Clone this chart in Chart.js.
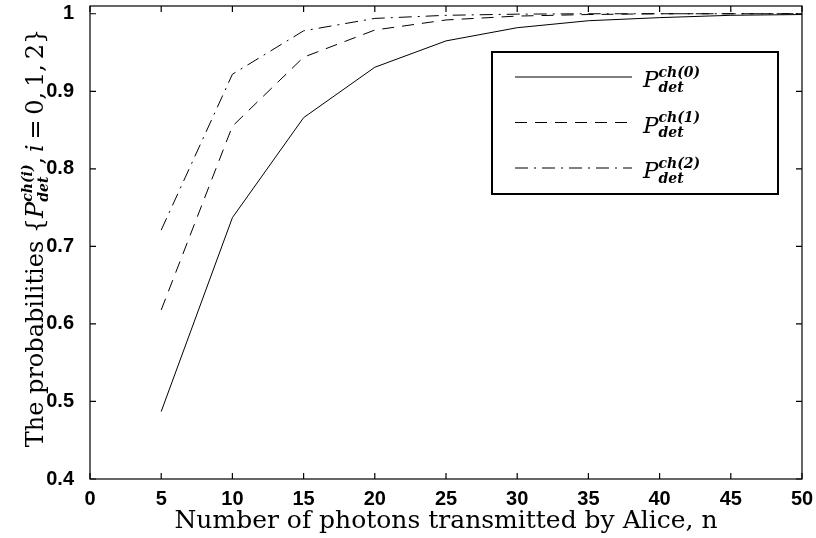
<!DOCTYPE html>
<html>
<head>
<meta charset="utf-8">
<script src="https://cdn.jsdelivr.net/npm/chart.js@4.4.1/dist/chart.umd.min.js"></script>
<style>
  html, body { margin:0; padding:0; background:#fff; }
  #wrap { width:816px; height:538px; position:relative; }
</style>
</head>
<body>
<div id="wrap"><canvas id="pdet"></canvas></div>
<script>
// ─── Data ────────────────────────────────────────────────────────────────────
const photons = [5, 10, 15, 20, 25, 30, 35, 40, 45, 50];
const pdet0   = [0.487, 0.737, 0.866, 0.931, 0.965, 0.982, 0.991, 0.995, 0.998, 0.999];
const pdet1   = [0.618, 0.855, 0.944, 0.979, 0.992, 0.997, 0.999, 1.000, 1.000, 1.000];
const pdet2   = [0.721, 0.922, 0.978, 0.994, 0.998, 0.9995, 1.000, 1.000, 1.000, 1.000];
const xTicks  = [0, 5, 10, 15, 20, 25, 30, 35, 40, 45, 50];
const yTicks  = [0.4, 0.5, 0.6, 0.7, 0.8, 0.9, 1.0];
const supLbl  = ['ch(0)', 'ch(1)', 'ch(2)'];

// ─── Styles ──────────────────────────────────────────────────────────────────
const DASH   = { solid:[], dashed:[12, 8], dashdot:[13, 6, 2, 6] };
const SERIF  = '"DejaVu Serif", serif';
const TICKF  = { family:'"Liberation Sans", Arial, sans-serif', size:20, weight:'bold' };
const THIN   = '\u2009';
const YT     = 24;   // y title font size

function pts(ys) { return photons.map((x, i) => ({ x, y: ys[i] })); }

// draws P with stacked sup/sub, returns advance width
function drawP(ctx, x, y, sup, sub, big, small) {
  ctx.font = 'italic ' + big + 'px ' + SERIF;
  ctx.fillText('P', x, y);
  const wp = ctx.measureText('P').width;
  ctx.font = 'italic bold ' + small + 'px ' + SERIF;
  ctx.fillText(sup, x + wp, y - big * 0.45);
  ctx.fillText(sub, x + wp, y + big * 0.2);
  return wp + Math.max(ctx.measureText(sup).width, ctx.measureText(sub).width);
}

// ─── Frame, inward ticks, titles, legend ─────────────────────────────────────
const framePlugin = {
  id: 'frame',
  afterDraw(chart) {
    const { ctx, chartArea: a, scales: { x, y } } = chart;
    ctx.save();
    ctx.strokeStyle = '#000';
    ctx.lineWidth = 1.2;
    ctx.setLineDash([]);
    ctx.strokeRect(a.left, a.top, a.right - a.left, a.bottom - a.top);
    const tl = 6;
    ctx.beginPath();
    xTicks.forEach(v => {
      const px = x.getPixelForValue(v);
      ctx.moveTo(px, a.bottom); ctx.lineTo(px, a.bottom - tl);
      ctx.moveTo(px, a.top);    ctx.lineTo(px, a.top + tl);
    });
    yTicks.forEach(v => {
      const py = y.getPixelForValue(v);
      ctx.moveTo(a.left, py);  ctx.lineTo(a.left + tl, py);
      ctx.moveTo(a.right, py); ctx.lineTo(a.right - tl, py);
    });
    ctx.stroke();

    // x title
    ctx.fillStyle = '#000';
    ctx.textBaseline = 'alphabetic';
    ctx.textAlign = 'center';
    ctx.font = '25px ' + SERIF;
    ctx.fillText('Number of photons transmitted by Alice, n', (a.left + a.right) / 2, 528);

    // y title (rotated, with math)
    ctx.textAlign = 'left';
    ctx.save();
    ctx.translate(43, 238);
    ctx.rotate(-Math.PI / 2);
    const head = 'The probabilities {', tail1 = ',' + THIN, ital = 'i';
    const tail2 = THIN + '=' + THIN + '0,' + THIN + '1,' + THIN + '2}';
    ctx.font = YT + 'px ' + SERIF;
    const wHead = ctx.measureText(head).width;
    const wT1 = ctx.measureText(tail1).width, wT2 = ctx.measureText(tail2).width;
    ctx.font = 'italic ' + YT + 'px ' + SERIF;
    const wI = ctx.measureText(ital).width;
    // measure P block first
    ctx.globalAlpha = 0;
    const wP = drawP(ctx, 0, 0, 'ch(i)', 'det', YT, 14);
    ctx.globalAlpha = 1;
    let u = -(wHead + wP + wT1 + wI + wT2) / 2;
    ctx.font = YT + 'px ' + SERIF;
    ctx.fillText(head, u, 0); u += wHead;
    u += drawP(ctx, u, 0, 'ch(i)', 'det', YT, 14);
    ctx.font = YT + 'px ' + SERIF;
    ctx.fillText(tail1, u, 0); u += wT1;
    ctx.font = 'italic ' + YT + 'px ' + SERIF;
    ctx.fillText(ital, u, 0); u += wI;
    ctx.font = YT + 'px ' + SERIF;
    ctx.fillText(tail2, u, 0);
    ctx.restore();

    // legend box
    const lx = 492, ly = 52, lw = 286, lh = 142;
    ctx.fillStyle = '#fff';
    ctx.fillRect(lx, ly, lw, lh);
    ctx.lineWidth = 2;
    ctx.strokeStyle = '#000';
    ctx.strokeRect(lx, ly, lw, lh);
    ctx.fillStyle = '#000';
    chart.data.datasets.forEach((ds, i) => {
      const ry = 77 + i * 45.5;
      ctx.lineWidth = 1.2;
      ctx.setLineDash(ds.borderDash);
      ctx.beginPath();
      ctx.moveTo(515, ry); ctx.lineTo(632, ry);
      ctx.stroke();
      ctx.setLineDash([]);
      drawP(ctx, 643, ry + 10, supLbl[i], 'det', 23, 14);
    });
    ctx.restore();
  }
};

// ─── Chart ───────────────────────────────────────────────────────────────────
const line = (data, dash) => ({
  data: pts(data), borderColor:'#000', borderWidth:1, borderDash:dash,
  pointRadius:0, tension:0, fill:false
});

new Chart(document.getElementById('pdet').getContext('2d'), {
  type: 'line',
  data: {
    datasets: [
      line(pdet0, DASH.solid),
      line(pdet1, DASH.dashed),
      line(pdet2, DASH.dashdot)
    ]
  },
  options: {
    responsive: true,
    maintainAspectRatio: false,
    animation: false,
    layout: { padding: { top:6, right:14, left:0, bottom:0 } },
    plugins: { legend:{ display:false }, tooltip:{ enabled:false } },
    scales: {
      x: {
        type: 'linear', min: 0, max: 50,
        grid: { display:false }, border: { display:false },
        afterBuildTicks: s => { s.ticks = xTicks.map(v => ({ value:v })); },
        afterFit: s => { s.height = 59; s.paddingLeft = 0; s.paddingRight = 0; },
        ticks: { color:'#000', font:TICKF, padding:0, maxRotation:0, autoSkip:false }
      },
      y: {
        type: 'linear', min: 0.4, max: 1.01,
        grid: { display:false }, border: { display:false },
        afterBuildTicks: s => { s.ticks = yTicks.map(v => ({ value:v })); },
        afterFit: s => { s.width = 90; s.paddingTop = 0; s.paddingBottom = 0; },
        ticks: { color:'#000', font:TICKF, padding:8,
                 callback: v => String(Number(v.toFixed(1))) }
      }
    }
  },
  plugins: [framePlugin]
});
</script>
</body>
</html>
